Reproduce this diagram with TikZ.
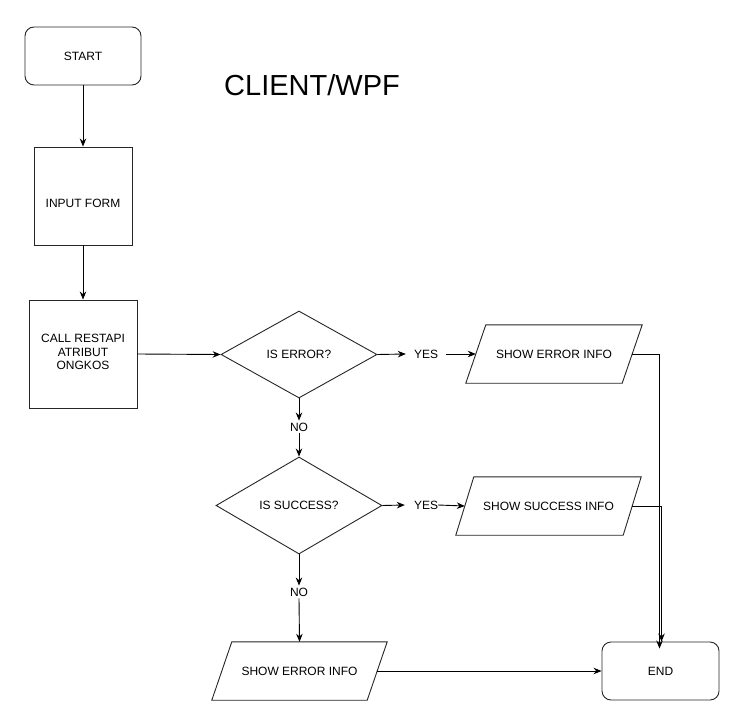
\documentclass[tikz,border=0pt]{standalone}
\usepackage{fontspec}
\setmainfont{Liberation Sans}
\usetikzlibrary{shapes.geometric,arrows.meta}
\begin{document}
\begin{tikzpicture}[x=1pt,y=-1pt,
  every node/.style={font=\fontsize{12}{13.5}\selectfont, text=black},
  box/.style={draw=black!85, line width=0.9pt, inner sep=0pt, fill=white},
  rbox/.style={box, rounded corners=9pt},
  dia/.style={box, diamond},
  pbody/.style={inner sep=0pt, minimum height=58pt},
  pline/.style={draw=black!85, line width=0.9pt},
  lbl/.style={inner ysep=4pt, inner xsep=0pt},
  arr/.style={draw=black, line width=0.9pt, -{Stealth[length=8pt,width=6.5pt]}},
  ln/.style={draw=black, line width=0.9pt}]
\useasboundingbox (0,0) rectangle (746,727);
\fill[white] (0,0) rectangle (746,727);

\node[rbox, minimum width=116pt, minimum height=58pt] (start) at (83,56) {START};
\node[font=\fontsize{29}{33}\selectfont] (title) at (312,85) {CLIENT/WPF};
\node[box, minimum width=98pt, minimum height=98pt] (input) at (83,196) {};
\node (inputtxt) at (83,203) {INPUT FORM};
\node[box, minimum width=108pt, minimum height=108pt] (call) at (83,354) {};
\node[align=center] (calltxt) at (83,352) {CALL RESTAPI\\ATRIBUT\\ONGKOS};

\node[dia, minimum width=156pt, minimum height=87pt] (err) at (299,354.5) {IS ERROR?};
\node[lbl] (yes1) at (426,354) {YES};
\node[pbody, minimum width=156pt] (sei) at (554,354) {SHOW ERROR INFO};
\draw[pline] ([xshift=10pt]sei.north west) -- ([xshift=10pt]sei.north east) -- ([xshift=-10pt]sei.south east) -- ([xshift=-10pt]sei.south west) -- cycle;

\node[lbl] (no1) at (299,427) {NO};
\node[dia, minimum width=166pt, minimum height=97pt] (suc) at (299,505.5) {IS SUCCESS?};
\node[lbl] (yes2) at (426,505) {YES};
\node[pbody, minimum width=167pt] (ssi) at (548.5,506) {SHOW SUCCESS INFO};
\draw[pline] ([xshift=9pt]ssi.north west) -- ([xshift=9pt]ssi.north east) -- ([xshift=-9pt]ssi.south east) -- ([xshift=-9pt]ssi.south west) -- cycle;

\node[lbl] (no2) at (299,592) {NO};
\node[pbody, minimum width=155pt] (sei2) at (299.5,671) {SHOW ERROR INFO};
\draw[pline] ([xshift=10pt]sei2.north west) -- ([xshift=10pt]sei2.north east) -- ([xshift=-10pt]sei2.south east) -- ([xshift=-10pt]sei2.south west) -- cycle;
\node[rbox, minimum width=117pt, minimum height=58pt] (end) at (660.5,671) {END};

\draw[arr] (start) -- (input);
\draw[arr] (input) -- (call);
\draw[arr] (call.east) -- (err.west);
\draw[arr] (err.east) -- ([xshift=-8pt]yes1.west);
\draw[arr] ([xshift=8pt]yes1.east) -- (sei.west);
\draw[arr] (err.south) -- ([yshift=-2pt]no1.north);
\draw[arr] ([yshift=2pt]no1.south) -- (suc.north);
\draw[arr] (suc.east) -- ([xshift=-9pt]yes2.west);
\draw[arr] (yes2.east) -- (ssi.west);
\draw[arr] (suc.south) -- ([yshift=-2pt]no2.north);
\draw[arr] ([yshift=2pt]no2.south) -- (sei2.north);
\draw[arr] (sei.east) -| ([xshift=-1pt,yshift=-7pt]end.north);
\draw[arr] (ssi.east) -| ([xshift=1pt]end.north);
\draw[arr] (sei2.east) -- (end.west);
\end{tikzpicture}
\end{document}
